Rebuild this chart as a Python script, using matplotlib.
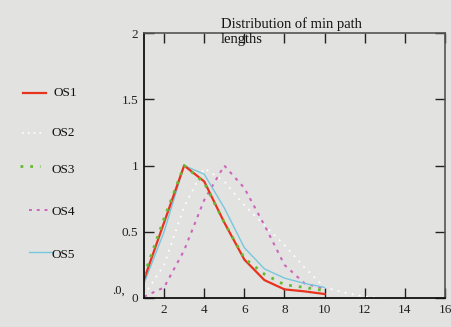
import numpy as np
import matplotlib
matplotlib.use("Agg")
from matplotlib import pyplot as plt
from matplotlib.lines import Line2D

plt.rcParams['font.family'] = ['Liberation Serif', 'DejaVu Serif']

path_len = [1, 2, 3, 4, 5, 6, 7, 8, 9, 10]
os1 = [0.14, 0.57, 1.0, 0.88, 0.57, 0.29, 0.135, 0.065, 0.05, 0.03]
os3 = [0.17, 0.60, 1.0, 0.87, 0.57, 0.30, 0.18, 0.10, 0.08, 0.055]
os4 = [0.01, 0.08, 0.36, 0.74, 1.0, 0.83, 0.55, 0.25, 0.11, 0.07]
os5 = [0.11, 0.50, 1.0, 0.935, 0.68, 0.38, 0.22, 0.15, 0.11, 0.08]
path_len2 = [1, 2, 3, 4, 5, 6, 7, 8, 9, 10, 11, 12, 13, 14, 15]
os2 = [0.02, 0.25, 0.69, 0.98, 0.88, 0.70, 0.55, 0.40, 0.23, 0.08, 0.04, 0.01, 0.0, 0.0, 0.0]

series_names = ['OS1', 'OS2', 'OS3', 'OS4', 'OS5']
bg = '#e2e2e1'

fig = plt.figure(figsize=(4.52, 3.27), dpi=100, facecolor=bg)
ax = fig.add_axes([0.3186, 0.0887, 0.666, 0.810])
ax.set_facecolor(bg)

red = '#e8321e'
green = '#66bb33'
purple = '#cc66bb'
cyan = '#77c8dc'

ax.plot(path_len2, os2, color='white', lw=1.3, ls=(0, (1, 3)))
ax.plot(path_len, os4, color=purple, lw=1.5, ls=(0, (1.5, 2.5)))
ax.plot(path_len, os5, color=cyan, lw=1.0)
ax.plot(path_len, os1, color=red, lw=1.6)
ax.plot(path_len, os3, color=green, lw=2.0, ls=(0, (1, 2.5)))

ax.set_xlim(1, 16)
ax.set_ylim(0, 2)
ax.set_xticks(np.arange(2, 17, 2))
ax.set_yticks([0, 0.5, 1, 1.5, 2])
ax.set_yticklabels(['0', '0.5', '1', '1.5', '2'])
ax.tick_params(direction='in', length=7, width=1, labelsize=9.5,
               top=True, right=True, pad=4, colors='#222222')
for side in ['left', 'bottom']:
    ax.spines[side].set_color('#111111')
    ax.spines[side].set_linewidth(1.3)
for side in ['top', 'right']:
    ax.spines[side].set_color('#555555')
    ax.spines[side].set_linewidth(1.2)

fig.text(0.489, 0.904, 'Distribution of min path\nlengths', fontsize=10.5,
         ha='left', va='center', linespacing=1.25, color='#111111')

# legend drawn manually at the left side
leg_y = [0.715, 0.593, 0.492, 0.358, 0.229]
leg_styles = [
    dict(color=red, lw=1.6, ls='-'),
    dict(color='white', lw=1.2, ls=(0, (1, 2.5))),
    dict(color=green, lw=2.0, ls=(0, (1, 2.5))),
    dict(color=purple, lw=1.4, ls=(0, (1.5, 2.5))),
    dict(color=cyan, lw=1.0, ls='-'),
]
leg_x0 = [0.051, 0.049, 0.044, 0.064, 0.064]
leg_x1 = [0.102, 0.098, 0.088, 0.112, 0.118]
text_x = [0.118, 0.115, 0.115, 0.115, 0.115]
text_dy = [0.0, 0.0, -0.012, -0.005, -0.01]
for name, y, st, a, b, tx, dy in zip(series_names, leg_y, leg_styles, leg_x0, leg_x1, text_x, text_dy):
    fig.add_artist(Line2D([a, b], [y, y], transform=fig.transFigure, **st))
    fig.text(tx, y + dy, name, fontsize=9.5, ha='left', va='center', color='#111111')

fig.text(0.262, 0.112, '.0,', fontsize=9, ha='center', va='center', color='#111111')

fig.savefig('out.png', dpi=100, facecolor=bg)
